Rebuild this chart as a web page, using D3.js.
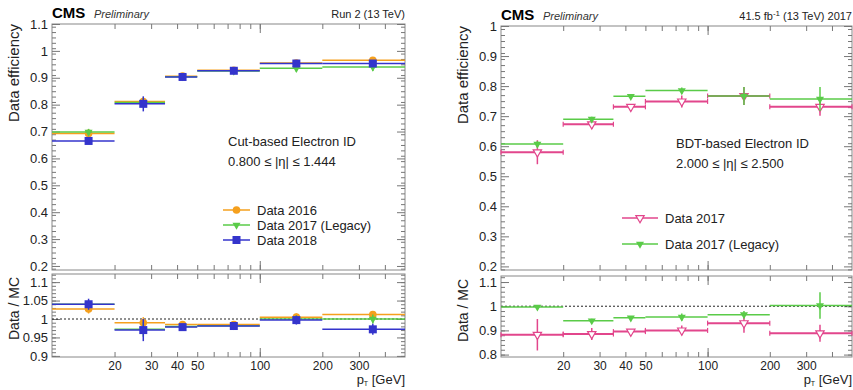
<!DOCTYPE html>
<html>
<head>
<meta charset="utf-8">
<script src="https://cdn.jsdelivr.net/npm/d3@7"></script>
<style>
  body { margin: 0; background: #fff; }
  svg { font-family: "Liberation Sans", Arial, sans-serif; }
</style>
</head>
<body>
<script>
// bins in pT [GeV]
const binEdges = [10, 20, 35, 50, 100, 200, 500];
const binCenters = [15, 27.5, 42.5, 75, 150, 350];
const xTickLabels = [20, 30, 40, 50, 100, 200, 300];
const xMinorTicks = [60, 70, 80, 90, 400];

// left: cut-based ID, 0.800 < |eta| < 1.444
const eff2016 = [0.693, 0.812, 0.906, 0.928, 0.955, 0.965];
const eff2016Err = [0.012, 0.015, 0.004, 0.004, 0.01, 0.01];
const eff2017Leg = [0.698, 0.808, 0.904, 0.925, 0.935, 0.94];
const eff2017LegErr = [0.012, 0.015, 0.004, 0.005, 0.012, 0.015];
const eff2018 = [0.665, 0.803, 0.903, 0.926, 0.953, 0.953];
const eff2018Err = [0.008, 0.028, 0.004, 0.004, 0.006, 0.008];
const ratio2016 = [1.027, 0.99, 0.985, 0.985, 1.005, 1.012];
const ratio2016Err = [0.012, 0.015, 0.006, 0.006, 0.01, 0.01];
const ratio2017Leg = [1.04, 0.972, 0.98, 0.982, 1.0, 1.0];
const ratio2017LegErr = [0.01, 0.02, 0.006, 0.006, 0.01, 0.012];
const ratio2018 = [1.04, 0.97, 0.978, 0.981, 0.997, 0.972];
const ratio2018Err = [0.015, 0.03, 0.006, 0.006, 0.012, 0.015];

// right: BDT-based ID, 2.000 < |eta| < 2.500
const bdt2017 = [0.58, 0.673, 0.731, 0.749, 0.767, 0.731];
const bdt2017Err = [0.04, 0.015, 0.006, 0.02, 0.03, 0.03];
const bdt2017Leg = [0.607, 0.69, 0.766, 0.785, 0.767, 0.757];
const bdt2017LegErr = [0.01, 0.008, 0.006, 0.01, 0.03, 0.04];
const bdtRatio2017 = [0.882, 0.885, 0.895, 0.9, 0.93, 0.888];
const bdtRatio2017Err = [0.065, 0.025, 0.008, 0.02, 0.04, 0.035];
const bdtRatio2017Leg = [0.997, 0.94, 0.952, 0.955, 0.965, 1.003];
const bdtRatio2017LegErr = [0.008, 0.008, 0.008, 0.015, 0.015, 0.055];

const ORANGE = "#f5a01e", GREEN = "#5acb48", BLUE = "#3434cc", PINK = "#e2468c";

const svg = d3.select("body").append("svg")
    .attr("width", 853)
    .attr("height", 390);

// marker shapes
function drawMarker(g, shape, color, cx, cy) {
    if (shape === "circle") {
        g.append("circle").attr("cx", cx).attr("cy", cy).attr("r", 3.8).attr("fill", color);
    } else if (shape === "square") {
        g.append("rect").attr("x", cx - 4).attr("y", cy - 4).attr("width", 8).attr("height", 8).attr("fill", color);
    } else {
        const open = shape === "opentri";
        g.append("path")
            .attr("d", d3.symbol(d3.symbolTriangle, open ? 30 : 28)())
            .attr("transform", `translate(${cx},${cy}) rotate(180)`)
            .attr("fill", open ? "#fff" : color)
            .attr("stroke", color)
            .attr("stroke-width", open ? 1.2 : 0);
    }
}

function drawPanel(p) {
    const x = d3.scaleLog().domain([10, 500]).range([p.left, p.right]);
    const yTop = d3.scaleLinear().domain(p.topDomain).range([p.topBottom, p.topTop]);
    const yLow = d3.scaleLinear().domain(p.lowDomain).range([p.lowBottom, p.lowTop]);

    const g = svg.append("g");

    // header
    g.append("text").attr("x", p.left).attr("y", p.topTop - 6)
        .attr("font-size", 15).attr("font-weight", "bold").text("CMS");
    g.append("text").attr("x", p.left + 42).attr("y", p.topTop - 6)
        .attr("font-size", 11).attr("font-style", "italic").attr("fill", "#333").text("Preliminary");
    const hdr = g.append("text").attr("x", p.right).attr("y", p.topTop - 6)
        .attr("font-size", 11).attr("text-anchor", "end").attr("fill", "#222");
    p.header(hdr);

    // frames
    [[p.topTop, p.topBottom], [p.lowTop, p.lowBottom]].forEach(([t, b]) => {
        g.append("rect").attr("x", p.left).attr("y", t)
            .attr("width", p.right - p.left).attr("height", b - t)
            .attr("fill", "none").attr("stroke", "#888").attr("stroke-width", 1);
    });

    // x axes: ticks on both panels, labels only below the ratio panel
    const xAll = xTickLabels.concat(xMinorTicks);
    [[p.topTop, p.topBottom], [p.lowTop, p.lowBottom]].forEach(([t, b], k) => {
        const bottom = g.append("g").attr("transform", `translate(0,${b})`)
            .call(d3.axisBottom(x).tickValues(xAll).tickSize(-5)
                .tickFormat(d => (k === 1 && xTickLabels.includes(d)) ? d : "").tickPadding(4));
        g.append("g").attr("transform", `translate(0,${t})`)
            .call(d3.axisTop(x).tickValues(xAll).tickSize(-5).tickFormat(""));
        g.append("g").attr("transform", `translate(0,${b})`)
            .call(d3.axisBottom(x).tickValues([100]).tickSize(-9).tickFormat(""));
        g.append("g").attr("transform", `translate(0,${t})`)
            .call(d3.axisTop(x).tickValues([100]).tickSize(-9).tickFormat(""));
        bottom.selectAll("text").attr("font-size", 12).attr("fill", "#222");
    });

    // y axes
    function yAxes(scale, major, minor) {
        const l = g.append("g").attr("transform", `translate(${p.left},0)`)
            .call(d3.axisLeft(scale).tickValues(major).tickSize(-8).tickPadding(4)
                .tickFormat(d => d3.format("~g")(d)));
        l.selectAll("text").attr("font-size", 13).attr("fill", "#222");
        g.append("g").attr("transform", `translate(${p.left},0)`)
            .call(d3.axisLeft(scale).tickValues(minor).tickSize(-4).tickFormat(""));
        g.append("g").attr("transform", `translate(${p.right},0)`)
            .call(d3.axisRight(scale).tickValues(major).tickSize(-8).tickFormat(""));
        g.append("g").attr("transform", `translate(${p.right},0)`)
            .call(d3.axisRight(scale).tickValues(minor).tickSize(-4).tickFormat(""));
    }
    yAxes(yTop, p.topMajor, p.topMinor);
    yAxes(yLow, p.lowMajor, p.lowMinor);
    g.selectAll(".domain").attr("stroke", "none");
    g.selectAll(".tick line").attr("stroke", "#777");

    // axis titles
    g.append("text").attr("transform", `translate(${p.left - 33},${p.topTop}) rotate(-90)`)
        .attr("text-anchor", "end").attr("font-size", 15).attr("fill", "#222").text("Data efficiency");
    g.append("text").attr("transform", `translate(${p.left - 33},${p.lowTop + 3}) rotate(-90)`)
        .attr("text-anchor", "end").attr("font-size", 14).attr("fill", "#222").text("Data / MC");
    const xt = g.append("text").attr("x", p.right).attr("y", 384)
        .attr("text-anchor", "end").attr("font-size", 13).attr("fill", "#222");
    xt.append("tspan").text("p");
    xt.append("tspan").attr("font-size", 7).attr("dy", 2).text("T");
    xt.append("tspan").attr("dy", -2).text("  [GeV]");

    // dotted unity line in ratio panel
    g.append("line").attr("x1", p.left).attr("x2", p.right)
        .attr("y1", yLow(1)).attr("y2", yLow(1))
        .attr("stroke", "#222").attr("stroke-dasharray", "2,2").attr("stroke-width", 1);

    // series
    function drawSeries(s, vals, errs, y) {
        const sg = g.append("g");
        vals.forEach((v, i) => {
            const x0 = x(binEdges[i]), x1 = x(binEdges[i + 1]), xc = x(binCenters[i]);
            sg.append("line").attr("x1", x0).attr("x2", x1).attr("y1", y(v)).attr("y2", y(v))
                .attr("stroke", s.color).attr("stroke-width", s.width);
            if (s.caps) {
                [x0, x1].forEach(xe => sg.append("line").attr("x1", xe).attr("x2", xe)
                    .attr("y1", y(v) - 2.5).attr("y2", y(v) + 2.5)
                    .attr("stroke", s.color).attr("stroke-width", 1.2));
            }
            sg.append("line").attr("x1", xc).attr("x2", xc)
                .attr("y1", y(v - errs[i])).attr("y2", y(v + errs[i]))
                .attr("stroke", s.color).attr("stroke-width", 1.5);
            drawMarker(sg, s.marker, s.color, xc, y(v));
        });
    }
    p.series.forEach(s => {
        drawSeries(s, s.eff, s.effErr, yTop);
        drawSeries(s, s.ratio, s.ratioErr, yLow);
    });

    // labels
    p.labels.forEach((t, i) => {
        g.append("text").attr("x", p.labelX).attr("y", p.labelY + i * 20)
            .attr("font-size", 13).attr("fill", "#222").text(t);
    });

    // legend
    p.series.forEach((s, i) => {
        const ly = p.legY + i * p.legStep;
        g.append("line").attr("x1", p.legX).attr("x2", p.legX + p.legLen)
            .attr("y1", ly).attr("y2", ly).attr("stroke", s.color).attr("stroke-width", 1.5);
        drawMarker(g, s.marker, s.color, p.legX + p.legLen / 2, ly);
        g.append("text").attr("x", p.legX + p.legLen + 7).attr("y", ly + 5)
            .attr("font-size", 13).attr("fill", "#222").text(s.name);
    });
}

drawPanel({
    left: 52, right: 405,
    topTop: 24, topBottom: 270, lowTop: 274, lowBottom: 357,
    topDomain: [0.185, 1.1], lowDomain: [0.897, 1.122],
    topMajor: d3.range(2, 12).map(d => d / 10),
    topMinor: d3.range(19, 111, 2).map(d => d / 100),
    lowMajor: [0.9, 0.95, 1, 1.05, 1.1],
    lowMinor: d3.range(90, 113).map(d => d / 100),
    header: t => t.text("Run 2 (13 TeV)"),
    labels: ["Cut-based Electron ID", "0.800 \u2264 |\u03b7| \u2264 1.444"],
    labelX: 228, labelY: 146,
    legX: 223, legY: 210, legStep: 15, legLen: 27,
    series: [
        { name: "Data 2016", color: ORANGE, marker: "circle", width: 1.5,
          eff: eff2016, effErr: eff2016Err, ratio: ratio2016, ratioErr: ratio2016Err },
        { name: "Data 2017 (Legacy)", color: GREEN, marker: "tri", width: 1.5,
          eff: eff2017Leg, effErr: eff2017LegErr, ratio: ratio2017Leg, ratioErr: ratio2017LegErr },
        { name: "Data 2018", color: BLUE, marker: "square", width: 1.5,
          eff: eff2018, effErr: eff2018Err, ratio: ratio2018, ratioErr: ratio2018Err }
    ]
});

drawPanel({
    left: 501, right: 852,
    topTop: 26, topBottom: 270, lowTop: 276, lowBottom: 357,
    topDomain: [0.188, 1.0], lowDomain: [0.79, 1.125],
    topMajor: d3.range(2, 11).map(d => d / 10),
    topMinor: d3.range(19, 101, 2).map(d => d / 100),
    lowMajor: [0.8, 0.9, 1, 1.1],
    lowMinor: d3.range(80, 113, 2).map(d => d / 100),
    header: t => {
        t.append("tspan").text("41.5 fb");
        t.append("tspan").attr("font-size", 8).attr("dy", -4).text("-1");
        t.append("tspan").attr("dy", 4).text(" (13 TeV) 2017");
    },
    labels: ["BDT-based Electron ID", "2.000 \u2264 |\u03b7| \u2264 2.500"],
    labelX: 676, labelY: 148,
    legX: 622, legY: 218, legStep: 26, legLen: 36,
    series: [
        { name: "Data 2017", color: PINK, marker: "opentri", width: 2, caps: true,
          eff: bdt2017, effErr: bdt2017Err, ratio: bdtRatio2017, ratioErr: bdtRatio2017Err },
        { name: "Data 2017 (Legacy)", color: GREEN, marker: "tri", width: 1.5,
          eff: bdt2017Leg, effErr: bdt2017LegErr, ratio: bdtRatio2017Leg, ratioErr: bdtRatio2017LegErr }
    ]
});
</script>
</body>
</html>
